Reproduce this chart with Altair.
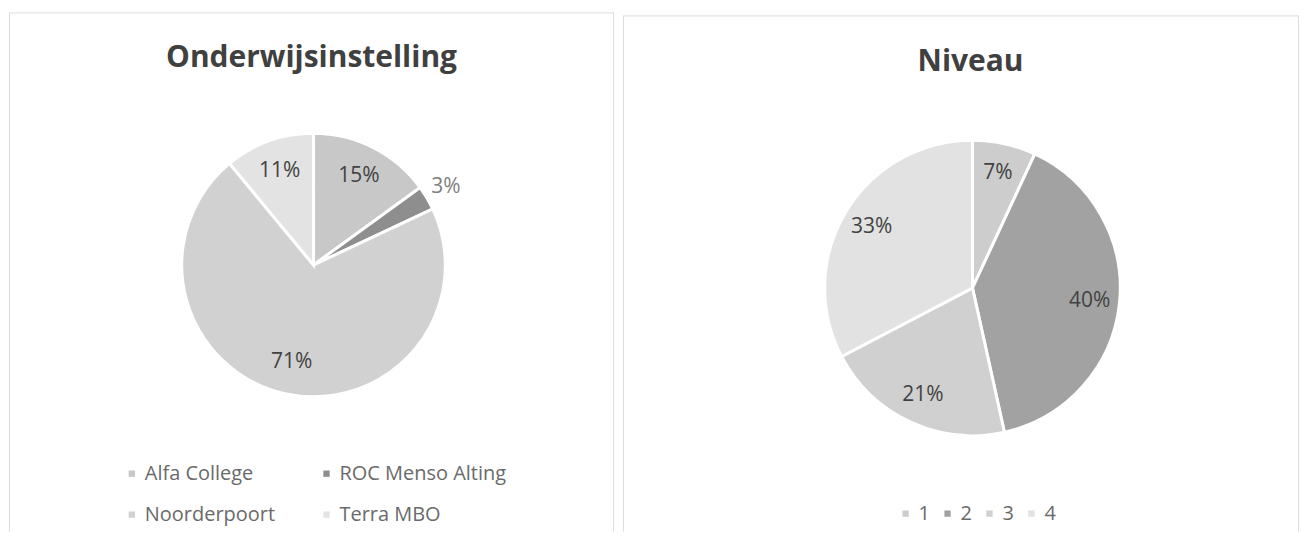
import altair as alt
import pandas as pd

# ---- data ----
inst_cats = ["Alfa College", "ROC Menso Alting", "Noorderpoort", "Terra MBO"]
inst_vals = [15, 3, 71, 11]
inst_colors = ["#c8c8c8", "#8e8e8e", "#d1d1d1", "#e3e3e3"]

niv_cats = ["1", "2", "3", "4"]
niv_vals = [7, 40, 21, 33]
niv_colors = ["#cdcdcd", "#a2a2a2", "#d0d0d0", "#e2e2e2"]

FONT = "Open Sans"
H = 520
LW, RW = 607, 678


def panel(cats, vals, colors, title, W, cx, cy, r, label_r, out_r,
          title_x, title_y, border_top, legend_kw, lab_size):
    df = pd.DataFrame({"cat": cats, "v": vals, "idx": list(range(len(cats)))})
    dummy = pd.DataFrame({"d": [0]})

    arcs = alt.Chart(df).mark_arc(outerRadius=r, stroke="white", strokeWidth=3).encode(
        theta=alt.Theta("v:Q", stack=True),
        order=alt.Order("idx:Q"),
        color=alt.Color("cat:N", sort=cats,
                        scale=alt.Scale(domain=cats, range=colors),
                        legend=alt.Legend(title=None, orient="none", padding=0,
                                          direction="horizontal", labelLimit=400,
                                          symbolType="square", symbolStrokeWidth=0,
                                          labelFont=FONT, labelColor="#6a6a6a",
                                          **legend_kw)),
        x=alt.value(cx), y=alt.value(cy),
    )

    lab = alt.Chart(df).transform_window(
        cum="sum(v)", sort=[alt.SortField("idx")]
    ).transform_joinaggregate(
        total="sum(v)"
    ).transform_calculate(
        ang="2*PI*(datum.cum - datum.v/2)/datum.total",
        lab="datum.v + '%'",
    )
    inner = lab.transform_filter("datum.v >= 5").mark_text(
        radius=label_r, font=FONT, fontSize=lab_size, color="#424242"
    ).encode(theta=alt.Theta("ang:Q", scale=None, stack=False), text="lab:N",
             x=alt.value(cx), y=alt.value(cy))
    outer = lab.transform_filter("datum.v < 5").mark_text(
        radius=out_r, font=FONT, fontSize=lab_size, color="#7f7f7f"
    ).encode(theta=alt.Theta("ang:Q", scale=None, stack=False), text="lab:N",
             x=alt.value(cx), y=alt.value(cy))

    ttl = alt.Chart(dummy).mark_text(
        text=title, font=FONT, fontSize=30, fontWeight="bold", color="#404040",
        baseline="alphabetic", align="center"
    ).encode(x=alt.value(title_x), y=alt.value(title_y))

    bc = "#dcdcdc"
    top = alt.Chart(dummy).mark_rule(color=bc, strokeWidth=1).encode(
        x=alt.value(0), x2=alt.value(W - 1), y=alt.value(border_top))
    left = alt.Chart(dummy).mark_rule(color=bc, strokeWidth=1).encode(
        x=alt.value(0.5), y=alt.value(border_top), y2=alt.value(H))
    right = alt.Chart(dummy).mark_rule(color=bc, strokeWidth=1).encode(
        x=alt.value(W - 1.5), y=alt.value(border_top), y2=alt.value(H))

    return alt.layer(top, left, right, arcs, inner, outer, ttl).properties(width=W, height=H)


left_panel = panel(
    inst_cats, inst_vals, inst_colors, "Onderwijsinstelling", LW,
    cx=305, cy=253, r=132, label_r=100, out_r=154,
    title_x=303, title_y=55, border_top=0.5,
    legend_kw=dict(legendX=113, legendY=452, columns=2, columnPadding=41,
                   rowPadding=21, labelFontSize=20, symbolSize=40, labelOffset=3),
    lab_size=21,
)

right_panel = panel(
    niv_cats, niv_vals, niv_colors, "Niveau", RW,
    cx=350, cy=276, r=148, label_r=118, out_r=170,
    title_x=348, title_y=59, border_top=3.5,
    legend_kw=dict(legendX=273, legendY=492, columns=4,
                   columnPadding=7, labelFontSize=20, symbolSize=40, labelOffset=3),
    lab_size=21,
)

chart = alt.hconcat(left_panel, right_panel, spacing=7).resolve_scale(
    color="independent", theta="independent"
).properties(
    padding={"left": 0, "top": 4, "right": 0, "bottom": 0}
).configure_view(strokeWidth=0)

chart.save("out.html", embed_options={"renderer": "svg", "actions": False})
